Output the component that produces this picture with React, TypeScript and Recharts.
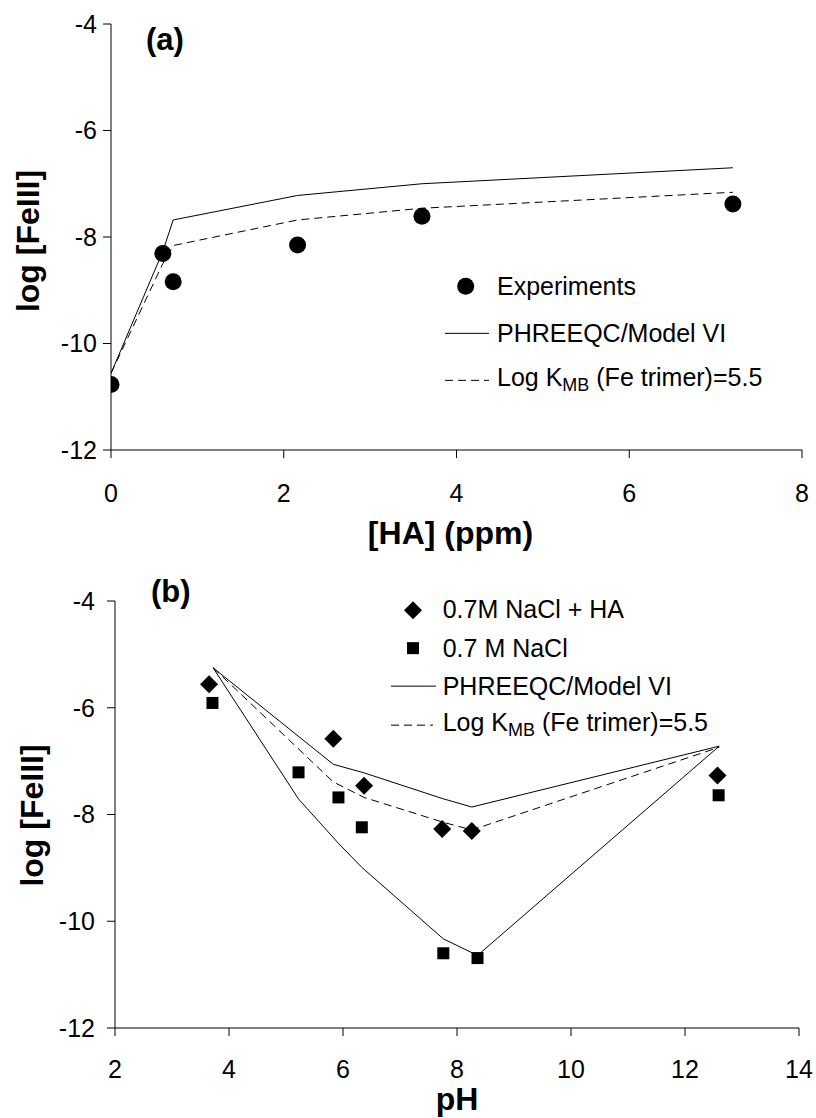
import React from 'react';
import { ComposedChart, Line, Scatter, XAxis, YAxis } from 'recharts';

const FONT = '"Liberation Sans", Arial, Helvetica, sans-serif';

// panel (a): log [FeIII] against humic acid
const haPpm = [0, 0.6, 0.72, 2.16, 3.6, 7.2];
const expFeA = [-10.77, -8.31, -8.84, -8.15, -7.61, -7.38];
const modelFeA = [-10.56, -8.27, -7.68, -7.22, -7.0, -6.7];
const trimerFeA = [-10.56, -8.5, -8.16, -7.68, -7.46, -7.16];

// panel (b): log [FeIII] against pH
const phHA = [3.65, 5.83, 6.37, 7.74, 8.26, 12.57];
const feHA = [-5.56, -6.58, -7.46, -8.27, -8.31, -7.27];
const phNaCl = [3.71, 5.22, 5.92, 6.33, 7.76, 8.36, 12.59];
const feNaCl = [-5.91, -7.21, -7.68, -8.24, -10.6, -10.69, -7.64];
const phModelHA = [3.72, 5.83, 6.37, 7.74, 8.26, 12.6];
const modelFeHA = [-5.25, -7.06, -7.22, -7.7, -7.86, -6.72];
const trimerFeB = [-5.25, -7.39, -7.68, -8.14, -8.29, -6.74];
const phModelNaCl = [3.72, 5.22, 5.92, 6.33, 7.76, 8.36, 12.6];
const modelFeNaCl = [-5.25, -7.71, -8.54, -8.99, -10.33, -10.64, -6.72];

const ticksHA = [0, 2, 4, 6, 8];
const ticksPH = [2, 4, 6, 8, 10, 12, 14];
const ticksFe = [-12, -10, -8, -6, -4];

const zip = (xs: number[], ys: number[]) => xs.map((x, i) => ({ x, y: ys[i] }));

const tickStyle = { fill: '#000', fontSize: 25, fontFamily: FONT };
const axisStroke = { stroke: '#000', strokeWidth: 1 };

const Dot = (p: any) => <circle cx={p.cx} cy={p.cy} r={8.5} fill="#000" />;
const Diamond = (p: any) => (
  <path d={`M${p.cx},${p.cy - 9}L${p.cx + 9},${p.cy}L${p.cx},${p.cy + 9}L${p.cx - 9},${p.cy}Z`} fill="#000" />
);
const Square = (p: any) => <rect x={p.cx - 6} y={p.cy - 6} width={12} height={12} fill="#000" />;

const xTitle = (text: string, dx: number, baseline: number) => (props: any) => {
  const vb = props.viewBox;
  return (
    <text x={vb.x + vb.width / 2 + dx} y={vb.y + baseline} textAnchor="middle" fontSize={32} fontWeight="bold" fontFamily={FONT} fill="#000">
      {text}
    </text>
  );
};

const yTitle = (cx: number, dy: number) => (props: any) => {
  const vb = props.viewBox;
  const cy = vb.y + vb.height / 2 + dy;
  return (
    <text x={cx} y={cy} transform={`rotate(-90 ${cx} ${cy})`} textAnchor="middle" dominantBaseline="central" fontSize={32} fontWeight="bold" fontFamily={FONT} fill="#000">
      log [FeIII]
    </text>
  );
};

const KLabel = () => (
  <span>
    Log K<sub style={{ fontSize: '0.72em', verticalAlign: '-0.3em' }}>MB</sub> (Fe trimer)=5.5
  </span>
);

function LegendRow({ mark, rowH, markW, children }: any) {
  return (
    <div style={{ display: 'flex', alignItems: 'center', height: rowH }}>
      <svg width={markW} height={rowH} style={{ flex: 'none' }}>
        {mark}
      </svg>
      <span style={{ whiteSpace: 'nowrap' }}>{children}</span>
    </div>
  );
}

function PanelA() {
  const rowH = 46.7;
  const mid = rowH / 2;
  return (
    <div style={{ position: 'absolute', left: 0, top: 0, width: 816, height: 560 }}>
      <ComposedChart width={816} height={560} margin={{ top: 24, right: 14, bottom: 0, left: 0 }}>
        <XAxis type="number" dataKey="x" domain={[0, 8]} ticks={ticksHA} tick={tickStyle} tickSize={8} tickMargin={26}
          axisLine={axisStroke} tickLine={axisStroke} height={110} allowDataOverflow label={{ content: xTitle('[HA] (ppm)', -6, 94) }} />
        <YAxis type="number" domain={[-12, -4]} ticks={ticksFe} tick={tickStyle} tickSize={8} tickMargin={6}
          axisLine={axisStroke} tickLine={axisStroke} width={111} label={{ content: yTitle(28, 4) }} />
        <Line data={zip(haPpm, modelFeA)} dataKey="y" type="linear" stroke="#000" strokeWidth={1} dot={false} isAnimationActive={false} />
        <Line data={zip(haPpm, trimerFeA)} dataKey="y" type="linear" stroke="#000" strokeWidth={1} strokeDasharray="8 5" dot={false} isAnimationActive={false} />
        <Scatter data={zip(haPpm, expFeA)} dataKey="y" shape={Dot} isAnimationActive={false} />
      </ComposedChart>
      <div style={{ position: 'absolute', left: 146, top: 22, fontSize: 31, fontWeight: 'bold', fontFamily: FONT, lineHeight: '36px' }}>(a)</div>
      <div style={{ position: 'absolute', left: 445, top: 286.7 - mid, fontSize: 25, fontFamily: FONT, color: '#000' }}>
        <LegendRow rowH={rowH} markW={52} mark={<circle cx={20.7} cy={mid} r={8.5} fill="#000" />}>Experiments</LegendRow>
        <LegendRow rowH={rowH} markW={52} mark={<line x1={0} x2={44} y1={mid} y2={mid} stroke="#000" />}>PHREEQC/Model VI</LegendRow>
        <LegendRow rowH={rowH} markW={52} mark={<line x1={0} x2={44} y1={mid} y2={mid} stroke="#000" strokeDasharray="8 5" />}><KLabel /></LegendRow>
      </div>
    </div>
  );
}

function PanelB() {
  const rowH = 38.3;
  const mid = rowH / 2;
  return (
    <div style={{ position: 'absolute', left: 0, top: 560, width: 816, height: 558 }}>
      <ComposedChart width={816} height={558} margin={{ top: 41, right: 17, bottom: 0, left: 0 }}>
        <XAxis type="number" dataKey="x" domain={[2, 14]} ticks={ticksPH} tick={tickStyle} tickSize={8} tickMargin={24}
          axisLine={axisStroke} tickLine={axisStroke} height={90} allowDataOverflow label={{ content: xTitle('pH', 0, 82) }} />
        <YAxis type="number" domain={[-12, -4]} ticks={ticksFe} tick={tickStyle} tickSize={8} tickMargin={12}
          axisLine={axisStroke} tickLine={axisStroke} width={115} label={{ content: yTitle(32, 1) }} />
        <Line data={zip(phModelHA, modelFeHA)} dataKey="y" type="linear" stroke="#000" strokeWidth={1} dot={false} isAnimationActive={false} />
        <Line data={zip(phModelNaCl, modelFeNaCl)} dataKey="y" type="linear" stroke="#000" strokeWidth={1} dot={false} isAnimationActive={false} />
        <Line data={zip(phModelHA, trimerFeB)} dataKey="y" type="linear" stroke="#000" strokeWidth={1} strokeDasharray="8 5" dot={false} isAnimationActive={false} />
        <Scatter data={zip(phHA, feHA)} dataKey="y" shape={Diamond} isAnimationActive={false} />
        <Scatter data={zip(phNaCl, feNaCl)} dataKey="y" shape={Square} isAnimationActive={false} />
      </ComposedChart>
      <div style={{ position: 'absolute', left: 151, top: 14, fontSize: 31, fontWeight: 'bold', fontFamily: FONT, lineHeight: '36px' }}>(b)</div>
      <div style={{ position: 'absolute', left: 391, top: 50 - mid, fontSize: 25, fontFamily: FONT, color: '#000' }}>
        <LegendRow rowH={rowH} markW={51.7} mark={<path d={`M22,${mid - 9}L31,${mid}L22,${mid + 9}L13,${mid}Z`} fill="#000" />}>0.7M NaCl + HA</LegendRow>
        <LegendRow rowH={rowH} markW={51.7} mark={<rect x={16} y={mid - 6} width={12} height={12} fill="#000" />}>0.7 M NaCl</LegendRow>
        <LegendRow rowH={rowH} markW={51.7} mark={<line x1={0} x2={45} y1={mid} y2={mid} stroke="#000" />}>PHREEQC/Model VI</LegendRow>
        <LegendRow rowH={rowH} markW={51.7} mark={<line x1={0} x2={42} y1={mid} y2={mid} stroke="#000" strokeDasharray="8 5" />}><KLabel /></LegendRow>
      </div>
    </div>
  );
}

export default function App() {
  return (
    <div style={{ position: 'absolute', left: 0, top: 0, width: 816, height: 1118, background: '#fff', fontFamily: FONT }}>
      <PanelA />
      <PanelB />
    </div>
  );
}
